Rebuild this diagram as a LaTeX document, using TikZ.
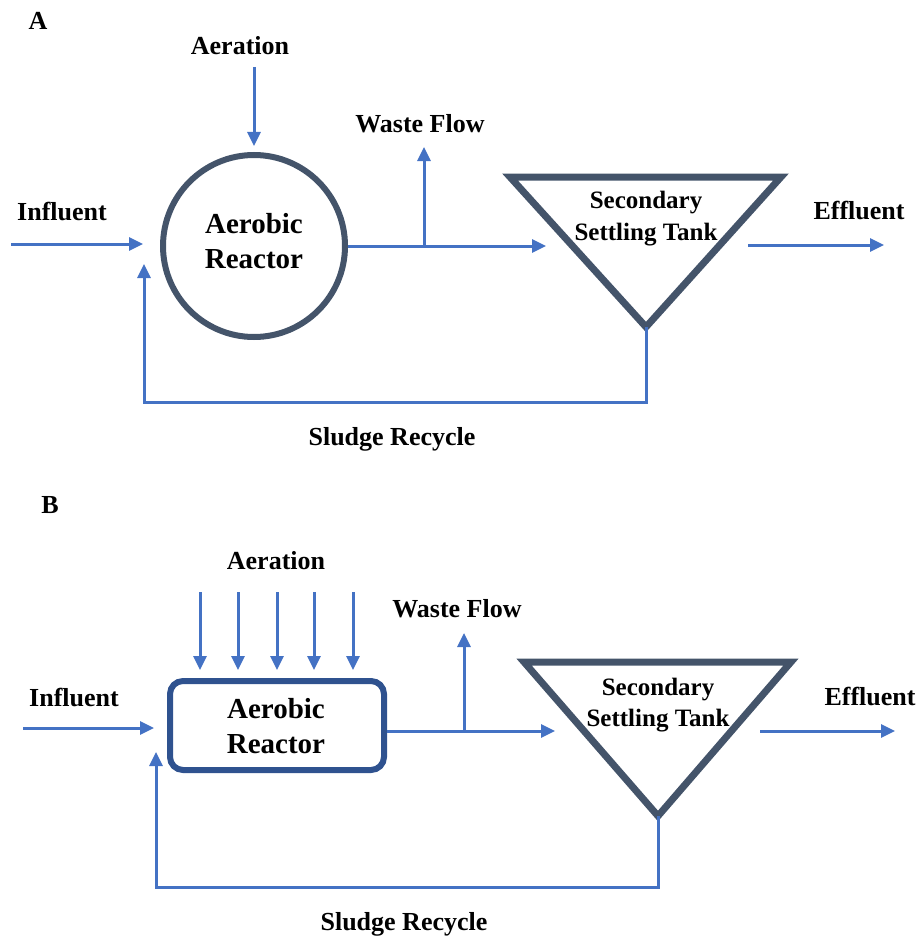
\documentclass[tikz,border=0pt]{standalone}
\usepackage{fontspec}
\setmainfont{Liberation Serif}
\usetikzlibrary{arrows.meta}
\definecolor{flow}{HTML}{4472C4}
\definecolor{vessel}{HTML}{44546A}
\definecolor{vesselB}{HTML}{2F528F}
\begin{document}
\begin{tikzpicture}[x=1pt,y=-1pt,
  flowline/.style={draw=flow,line width=3pt},
  flowarrow/.style={flowline,-{Triangle[length=14pt,width=13pt]}},
  lbl/.style={font=\fontsize{26}{28}\selectfont\bfseries,anchor=base,inner sep=0pt},
  reactortext/.style={font=\fontsize{29}{32}\selectfont\bfseries,anchor=base,inner sep=0pt},
  tanktext/.style={font=\fontsize{25}{28}\selectfont\bfseries,anchor=base,inner sep=0pt},
  tankshape/.style={draw=vessel,line width=7pt,line join=miter}]
\useasboundingbox (0,0) rectangle (921,939);

% ================= Panel A =================
\node[lbl] (labA) at (38,30) {A};
\node[lbl] (aerA) at (240,55) {Aeration};
\node[lbl] (infA) at (62,220) {Influent};
\node[lbl] (wasteA) at (420,132) {Waste Flow};
\node[lbl] (effA) at (859,219) {Effluent};
\node[lbl] (sludgeA) at (392,445) {Sludge Recycle};

\node[circle,draw=vessel,line width=6pt,minimum size=182pt,inner sep=0pt] (reactorA) at (254,246) {};
\node[reactortext] (reactorA1) at (254,233) {Aerobic};
\node[reactortext] (reactorA2) at (254,268) {Reactor};

\coordinate (tA1) at (510,177);
\coordinate (tA2) at (781,177);
\coordinate (tA3) at (646,327);
\draw[tankshape] (tA1) -- (tA2) -- (tA3) -- cycle;
\node[tanktext] (tankA1) at (646,208) {Secondary};
\node[tanktext] (tankA2) at (646,240) {Settling Tank};

\coordinate (aerAs) at (254,67);
\coordinate (aerAe) at (254,146);
\draw[flowarrow] (aerAs) -- (aerAe);

\coordinate (infAs) at (11,244);
\coordinate (infAe) at (143,244);
\draw[flowarrow] (infAs) -- (infAe);

\coordinate (tankAin) at (546,246);
\draw[flowarrow] (reactorA.east) -- (tankAin);

\coordinate (wasteAs) at (424,246);
\coordinate (wasteAe) at (424,147);
\draw[flowarrow] (wasteAs) -- (wasteAe);

\coordinate (effAs) at (748,245);
\coordinate (effAe) at (884,245);
\draw[flowarrow] (effAs) -- (effAe);

\coordinate (recAc1) at (646,402);
\coordinate (recAc2) at (144,402);
\coordinate (recAe) at (144,264);
\draw[flowarrow,line join=miter] (tA3) -- (recAc1) -- (recAc2) -- (recAe);

% ================= Panel B =================
\node[lbl] (labB) at (50,513) {B};
\node[lbl] (aerB) at (276,569) {Aeration};
\node[lbl] (infB) at (74,706) {Influent};
\node[lbl] (wasteB) at (457,617) {Waste Flow};
\node[lbl] (effB) at (870,705) {Effluent};
\node[lbl] (sludgeB) at (404,930) {Sludge Recycle};

\node[rectangle,rounded corners=13pt,draw=vesselB,line width=6pt,minimum width=214pt,minimum height=89pt,inner sep=0pt] (reactorB) at (277,725.5) {};
\node[reactortext] (reactorB1) at (276,718) {Aerobic};
\node[reactortext] (reactorB2) at (276,753) {Reactor};

\coordinate (tB1) at (524,662);
\coordinate (tB2) at (791,662);
\coordinate (tB3) at (658,816);
\draw[tankshape] (tB1) -- (tB2) -- (tB3) -- cycle;
\node[tanktext] (tankB1) at (658,695) {Secondary};
\node[tanktext] (tankB2) at (658,726) {Settling Tank};

\foreach \i/\x in {1/200,2/238,3/277,4/314,5/353}{
  \coordinate (aerBs\i) at (\x,592);
  \coordinate (aerBe\i) at (\x,670);
  \draw[flowarrow] (aerBs\i) -- (aerBe\i);
}

\coordinate (infBs) at (23,728);
\coordinate (infBe) at (154,728);
\draw[flowarrow] (infBs) -- (infBe);

\coordinate (outB) at (387,731);
\coordinate (tankBin) at (555,731);
\draw[flowarrow] (outB) -- (tankBin);

\coordinate (wasteBs) at (464,731);
\coordinate (wasteBe) at (464,633);
\draw[flowarrow] (wasteBs) -- (wasteBe);

\coordinate (effBs) at (760,731);
\coordinate (effBe) at (895,731);
\draw[flowarrow] (effBs) -- (effBe);

\coordinate (recBc1) at (658,887);
\coordinate (recBc2) at (156,887);
\coordinate (recBe) at (156,752);
\draw[flowarrow,line join=miter] (tB3) -- (recBc1) -- (recBc2) -- (recBe);
\end{tikzpicture}
\end{document}
